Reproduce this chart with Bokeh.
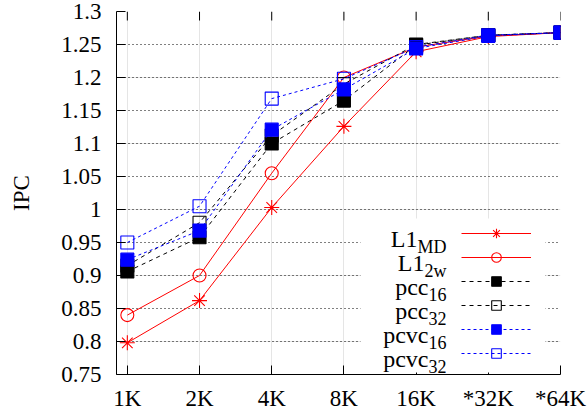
from bokeh.plotting import figure
from bokeh.models import (Range1d, FixedTicker, LinearAxis, Legend, LegendItem,
                          Label, BoxAnnotation, Grid)
from bokeh.embed import file_html
from bokeh.resources import INLINE

x_labels = ["1K", "2K", "4K", "8K", "16K", "*32K", "*64K"]
y_ticks = [0.75, 0.8, 0.85, 0.9, 0.95, 1.0, 1.05, 1.1, 1.15, 1.2, 1.25, 1.3]
y_tick_labels = ["0.75", "0.8", "0.85", "0.9", "0.95", "1", "1.05", "1.1",
                 "1.15", "1.2", "1.25", "1.3"]

l1_md = [0.798, 0.862, 1.003, 1.126, 1.239, 1.262, 1.268]
l1_2w = [0.840, 0.900, 1.055, 1.200, 1.246, 1.263, 1.268]
pcc16 = [0.906, 0.958, 1.100, 1.165, 1.249, 1.264, 1.268]
pcc32 = [0.915, 0.980, 1.112, 1.190, 1.250, 1.264, 1.268]
pcvc16 = [0.924, 0.968, 1.121, 1.182, 1.244, 1.263, 1.268]
pcvc32 = [0.950, 1.005, 1.168, 1.198, 1.246, 1.264, 1.268]

legend_main = ["L1", "L1", "pcc", "pcc", "pcvc", "pcvc"]
legend_sub = ["MD", "2w", "16", "32", "16", "32"]

FONT = "Liberation Serif"
xs = list(range(len(x_labels)))
X0, X1, Y0, Y1 = -0.15, 6, 0.75, 1.3

W, H = 587, 414
BL, BR, BT, BB = 116, 27, 11, 40
FRAME_H = H - BT - BB
TICK = 9

p = figure(width=W, height=H, output_backend="svg", toolbar_location=None,
           x_range=Range1d(X0, X1), y_range=Range1d(Y0, Y1),
           min_border_left=BL, min_border_right=BR, min_border_top=BT,
           min_border_bottom=BB, background_fill_color="white",
           border_fill_color="white", x_axis_location=None, y_axis_location=None)
p.outline_line_color = None

# axes
left = LinearAxis(ticker=FixedTicker(ticks=y_ticks),
                  major_label_overrides=dict(zip(y_ticks, y_tick_labels)))
bottom = LinearAxis(ticker=FixedTicker(ticks=xs),
                    major_label_overrides=dict(zip(xs, x_labels)))
for ax in (left, bottom):
    ax.major_tick_in = TICK
    ax.major_tick_out = 0
    ax.minor_tick_line_color = None
    ax.major_tick_line_color = "black"
    ax.axis_line_color = "black"
    ax.major_label_text_font = FONT
    ax.major_label_text_font_size = "23px"
    ax.major_label_text_color = "black"
left.major_label_standoff = 15
bottom.major_label_standoff = 11
bottom.major_label_text_line_height = 1.0
left.axis_label = "IPC"
left.axis_label_text_font = FONT
left.axis_label_text_font_size = "23px"
left.axis_label_text_font_style = "normal"
left.axis_label_text_color = "black"
left.axis_label_standoff = 24
p.add_layout(left, "left")
p.add_layout(bottom, "below")

g = Grid(dimension=1, ticker=FixedTicker(ticks=y_ticks))
g.grid_line_color = "black"
g.grid_line_dash = "1 3"
g.grid_line_width = 1
p.add_layout(g)

# mirrored x ticks along the top edge
tick_data = TICK * (Y1 - Y0) / FRAME_H
p.segment(x0=xs, y0=[Y1] * len(xs), x1=xs, y1=[Y1 - tick_data] * len(xs),
          line_color="black", line_width=1)

series = [
    (l1_md, "red", "solid", "asterisk", "red", None),
    (l1_2w, "red", "solid", "circle", "red", None),
    (pcc16, "black", "4 4", "square", "black", "black"),
    (pcc32, "black", "4 4", "square", "black", None),
    (pcvc16, "blue", "3 3", "square", "blue", "blue"),
    (pcvc32, "blue", "3 3", "square", "blue", None),
]
items = []
for ys, col, dash, marker, mcol, fill in series:
    ln = p.line(xs, ys, line_color=col, line_dash=dash, line_width=1)
    sz = 15 if marker == "asterisk" else 13
    sc = p.scatter(xs, ys, marker=marker, size=sz, line_color=mcol,
                   fill_color=fill if fill else None, line_width=1.1)
    items.append(LegendItem(label=" ", renderers=[ln, sc]))

# legend area (frame coordinates in pixels, y from bottom)
ROW = 24
leg_bottom = 9
leg_left = 345
box = BoxAnnotation(left=244, right=429, bottom=2, top=156,
                    left_units="screen", right_units="screen",
                    bottom_units="screen", top_units="screen",
                    fill_color="white", fill_alpha=1, line_color=None)
p.add_layout(box)

legend = Legend(items=items, location=(leg_left, leg_bottom), glyph_width=70,
                glyph_height=ROW, label_height=ROW, label_width=0,
                label_standoff=0, spacing=0, padding=0, margin=0,
                label_text_font_size="1px", border_line_color=None,
                background_fill_alpha=0)
p.add_layout(legend)

# legend texts
em = {"M": 0.889, "D": 0.722, "2": 0.5, "w": 0.722, "1": 0.5, "6": 0.5, "3": 0.5}
SUB = 18
text_right = 330
n = len(legend_main)
for i, (mt, st) in enumerate(zip(legend_main, legend_sub)):
    center = leg_bottom + ROW * (n - i) - ROW / 2
    sw = sum(em[c] for c in st) * SUB
    p.add_layout(Label(x=text_right - sw, y=center - 5, x_units="screen",
                       y_units="screen", text=mt, text_align="right",
                       text_baseline="alphabetic", text_font=FONT,
                       text_font_size="24px", text_color="black"))
    p.add_layout(Label(x=text_right - sw, y=center - 13, x_units="screen",
                       y_units="screen", text=st, text_align="left",
                       text_baseline="alphabetic", text_font=FONT,
                       text_font_size=f"{SUB}px", text_color="black"))

open("out.html", "w").write(file_html(p, INLINE))
